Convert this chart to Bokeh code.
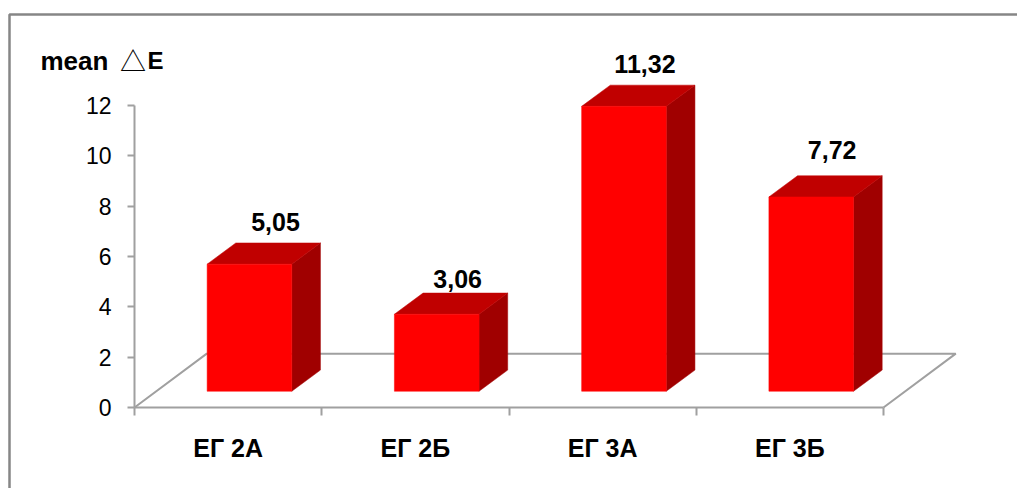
from bokeh.embed import file_html
from bokeh.resources import INLINE
from bokeh.plotting import figure
from bokeh.models import BoxAnnotation, FixedTicker, LinearAxis, Range1d
from bokeh.core.properties import value

# Series
categories = ["ЕГ 2А", "ЕГ 2Б", "ЕГ 3А", "ЕГ 3Б"]
mean_delta_e = [5.05, 3.06, 11.32, 7.72]
value_labels = ["5,05", "3,06", "11,32", "7,72"]
y_ticks = [0, 2, 4, 6, 8, 10, 12]

# Page and scale set-up: one category spans 187.25 px, one unit of value 25.17 px
W, H = 1017, 488
PX_CAT, PX_VAL = 187.25, 25.17
ORIGIN_X, ORIGIN_Y = 134, 407

def page_x(px):
    return (px - ORIGIN_X) / PX_CAT

def page_y(py):
    return (ORIGIN_Y - py) / PX_VAL

# Oblique projection of the 3D box
BAR_OFFSET = 0.388
BAR_WIDTH = 0.452
BASE = 0.645
DEPTH_X = 0.153
DEPTH_Y = 0.842
FLOOR_X = 0.386
FLOOR_Y = 2.14

GRID_GREY = "#a0a0a0"
TEXT_FONT = value("Liberation Sans")

p = figure(
    width=W, height=H, output_backend="svg", toolbar_location=None,
    x_axis_type=None, y_axis_type=None, min_border=0,
    x_range=Range1d(page_x(0), page_x(W)), y_range=Range1d(page_y(H), page_y(0)),
)
p.grid.visible = False
p.outline_line_color = None
p.background_fill_color = "white"
p.border_fill_color = "white"

# Open frame along the top and left of the chart area
p.add_layout(BoxAnnotation(
    left=9, top=H - 14, right=W + 20, bottom=-20,
    left_units="screen", right_units="screen", top_units="screen", bottom_units="screen",
    fill_alpha=0, line_color="#868686", line_alpha=1, line_width=2.5,
))

# Floor of the 3D plot
n = len(categories)
p.line([0, FLOOR_X, n + FLOOR_X, n], [0, FLOOR_Y, FLOOR_Y, 0], line_color=GRID_GREY, line_width=2)

# Axes
y_axis = LinearAxis(
    ticker=FixedTicker(ticks=y_ticks), fixed_location=0, bounds=(0, 12),
    axis_line_color=GRID_GREY, axis_line_width=2,
    major_tick_line_color=GRID_GREY, major_tick_line_width=2,
    major_tick_in=0, major_tick_out=7, minor_tick_out=0, minor_tick_in=0,
    major_label_text_font="Liberation Sans", major_label_text_font_size="23px",
    major_label_text_color="#000000", major_label_standoff=16,
)
p.add_layout(y_axis, "left")

x_axis = LinearAxis(
    ticker=FixedTicker(ticks=[i + 0.5 for i in range(n)], minor_ticks=list(range(n + 1))),
    fixed_location=0, bounds=(0, n),
    axis_line_color=GRID_GREY, axis_line_width=2,
    major_tick_line_color=None, major_tick_in=0, major_tick_out=0,
    minor_tick_line_color=GRID_GREY, minor_tick_line_width=2,
    minor_tick_in=0, minor_tick_out=8,
    major_label_overrides={i + 0.5: c for i, c in enumerate(categories)},
    major_label_text_font="Liberation Sans", major_label_text_font_size="25px",
    major_label_text_font_style="bold", major_label_text_color="#000000",
    major_label_standoff=18,
)
p.add_layout(x_axis, "below")

# Bars: front, top and side faces
fronts_x, fronts_y, tops_x, tops_y, sides_x, sides_y = [], [], [], [], [], []
for i, v in enumerate(mean_delta_e):
    x0, x1 = i + BAR_OFFSET, i + BAR_OFFSET + BAR_WIDTH
    y0, y1 = BASE, BASE + v
    fronts_x.append([x0, x1, x1, x0])
    fronts_y.append([y0, y0, y1, y1])
    tops_x.append([x0, x1, x1 + DEPTH_X, x0 + DEPTH_X])
    tops_y.append([y1, y1, y1 + DEPTH_Y, y1 + DEPTH_Y])
    sides_x.append([x1, x1 + DEPTH_X, x1 + DEPTH_X, x1])
    sides_y.append([y0, y0 + DEPTH_Y, y1 + DEPTH_Y, y1])

p.patches(sides_x, sides_y, fill_color="#a00000", line_color="#a00000", line_width=0.5)
p.patches(tops_x, tops_y, fill_color="#c00000", line_color="#c00000", line_width=0.5)
p.patches(fronts_x, fronts_y, fill_color="#ff0000", line_color="#ff0000", line_width=0.5)

# Value labels above each bar
shift_x = [0.139, 0.112, 0.112, 0.112]
shift_y = [0.85, 0.57, 0.85, 1.01]
label_x = [i + BAR_OFFSET + BAR_WIDTH / 2 + shift_x[i] for i in range(n)]
label_y = [BASE + v + DEPTH_Y + shift_y[i] for i, v in enumerate(mean_delta_e)]
p.text(label_x, label_y, text=value_labels, text_font=TEXT_FONT, text_font_style="bold",
       text_font_size="25px", text_align="center", text_baseline="middle", text_color="#000000")

# Axis caption: bold words with a light triangle between them
p.text([page_x(40)], [page_y(60)], text=["mean"], text_font=TEXT_FONT, text_font_style="bold",
       text_font_size="26px", text_align="left", text_baseline="middle", text_color="#000000")
p.text([page_x(132.5)], [page_y(59)], text=["△"], text_font=value("Noto Sans CJK SC"),
       text_font_size="26px", text_align="center", text_baseline="middle", text_color="#000000")
p.text([page_x(147)], [page_y(60)], text=["E"], text_font=TEXT_FONT, text_font_style="bold",
       text_font_size="24px", text_align="left", text_baseline="middle", text_color="#000000")

open("out.html", "w").write(file_html(p, INLINE))
